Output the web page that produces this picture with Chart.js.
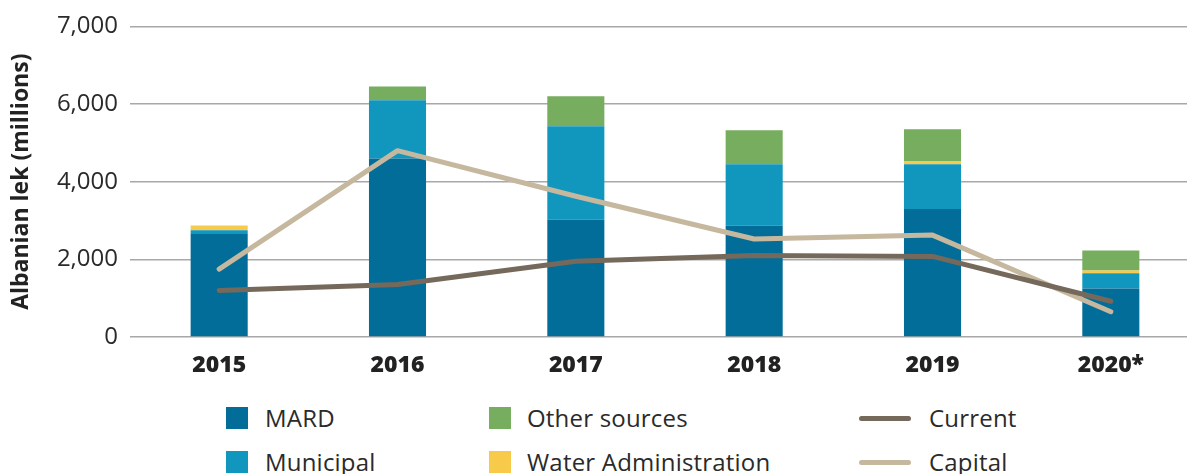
<!DOCTYPE html>
<html>
<head>
<meta charset="utf-8">
<script src="https://cdn.jsdelivr.net/npm/chart.js@4/dist/chart.umd.min.js"></script>
<style>
  html, body { margin: 0; padding: 0; background: #fff; overflow: hidden; width: 1187px; height: 474px; }
  #wrap { position: relative; width: 1200px; height: 395px; }
  #legend { position: absolute; left: 0; top: 395px; width: 1187px; height: 79px; font-family: "Open Sans", Lato, sans-serif; font-size: 24px; letter-spacing: 0.2px; color: #2a2a2a; }
  .item { position: absolute; height: 24px; line-height: 24px; white-space: nowrap; }
  .sw { position: absolute; }
  .lab { position: absolute; top: 0; }
</style>
</head>
<body>
<div id="wrap"><canvas id="c"></canvas></div>
<div id="legend"></div>
<script>
const categories = ['2015', '2016', '2017', '2018', '2019', '2020*'];
const mard      = [2675, 4600, 3025, 2875, 3300, 1250];
const municipal = [75, 1500, 2400, 1575, 1150, 390];
const waterAdm  = [125, 0, 0, 0, 80, 75];
const other     = [0, 350, 775, 875, 820, 510];
const current   = [1200, 1350, 1950, 2100, 2075, 920];
const capital   = [1750, 4800, 3625, 2525, 2625, 650];
const yTickValues = [0, 2000, 4000, 6000, 8000];
const yTickLabels = ['0', '2,000', '4,000', '6,000', '7,000'];

const COLORS = {
  mard: '#026d99', municipal: '#1197bd', water: '#f7ca4a', other: '#77ad5f',
  current: '#75695b', capital: '#c5b89e'
};

const barCommon = { type: 'bar', stack: 'funding', barPercentage: 0.32, categoryPercentage: 1, order: 2, borderWidth: 0 };
const lineCommon = { type: 'line', borderWidth: 5, pointRadius: 0, pointHoverRadius: 0, tension: 0,
  borderCapStyle: 'round', borderJoinStyle: 'round', fill: false };

const datasets = [
  Object.assign({ label: 'MARD', data: mard, backgroundColor: COLORS.mard }, barCommon),
  Object.assign({ label: 'Municipal', data: municipal, backgroundColor: COLORS.municipal }, barCommon),
  Object.assign({ label: 'Water Administration', data: waterAdm, backgroundColor: COLORS.water }, barCommon),
  Object.assign({ label: 'Other sources', data: other, backgroundColor: COLORS.other }, barCommon),
  Object.assign({ label: 'Current', data: current, borderColor: COLORS.current, backgroundColor: COLORS.current, order: 0, stack: 'current' }, lineCommon),
  Object.assign({ label: 'Capital', data: capital, borderColor: COLORS.capital, backgroundColor: COLORS.capital, order: 1, stack: 'capital' }, lineCommon)
];

const chart = new Chart(document.getElementById('c'), {
  type: 'bar',
  data: { labels: categories, datasets: datasets },
  options: {
    responsive: true,
    maintainAspectRatio: false,
    animation: false,
    layout: { padding: { top: 25, right: 0, left: 0, bottom: 0 } },
    plugins: { legend: { display: false }, tooltip: { enabled: false } },
    scales: {
      x: {
        stacked: true,
        grid: { display: false },
        border: { display: false },
        ticks: { color: '#222', font: { family: 'Open Sans', size: 23, weight: '800' }, padding: 7, maxRotation: 0 },
        afterFit: (s) => { s.height = 58; }
      },
      y: {
        stacked: true,
        min: 0, max: 8000,
        border: { display: false },
        grid: { color: '#a8a8a8', lineWidth: 1.5, drawTicks: false },
        afterBuildTicks: (s) => { s.ticks = yTickValues.map(v => ({ value: v })); },
        ticks: {
          color: '#2a2a2a', font: { family: 'Open Sans', size: 24 }, padding: 12,
          callback: (v) => { const i = yTickValues.indexOf(v); return i >= 0 ? yTickLabels[i] : ''; }
        },
        title: { display: true, text: 'Albanian lek (millions)', color: '#222',
          font: { family: 'Open Sans', size: 23, weight: 'bold' }, padding: { top: 8, bottom: 0 } },
        afterFit: (s) => { s.width = 130; }
      }
    }
  }
});

// HTML legend built from the chart datasets (3 columns x 2 rows)
const legendLayout = [
  { label: 'MARD', col: 0, row: 0 }, { label: 'Municipal', col: 0, row: 1 },
  { label: 'Other sources', col: 1, row: 0 }, { label: 'Water Administration', col: 1, row: 1 },
  { label: 'Current', col: 2, row: 0 }, { label: 'Capital', col: 2, row: 1 }
];
const colX = [{ sw: 226, text: 265 }, { sw: 489, text: 527 }, { sw: 859, text: 929 }];
const rowY = [23, 67];
const leg = document.getElementById('legend');
legendLayout.forEach(it => {
  const ds = chart.data.datasets.find(d => d.label === it.label);
  const div = document.createElement('div');
  div.className = 'item';
  div.style.left = '0px';
  div.style.top = (rowY[it.row] - 12) + 'px';
  const sw = document.createElement('span');
  sw.className = 'sw';
  if (ds.type === 'line') {
    sw.style.left = colX[it.col].sw + 'px'; sw.style.top = '9.5px';
    sw.style.width = '52px'; sw.style.height = '5px'; sw.style.borderRadius = '3px';
    sw.style.background = ds.borderColor;
  } else {
    sw.style.left = colX[it.col].sw + 'px'; sw.style.top = '1px';
    sw.style.width = '22px'; sw.style.height = '22px';
    sw.style.background = ds.backgroundColor;
  }
  const lab = document.createElement('span');
  lab.className = 'lab';
  lab.style.left = colX[it.col].text + 'px';
  lab.textContent = ds.label;
  div.appendChild(sw); div.appendChild(lab);
  leg.appendChild(div);
});
</script>
</body>
</html>
